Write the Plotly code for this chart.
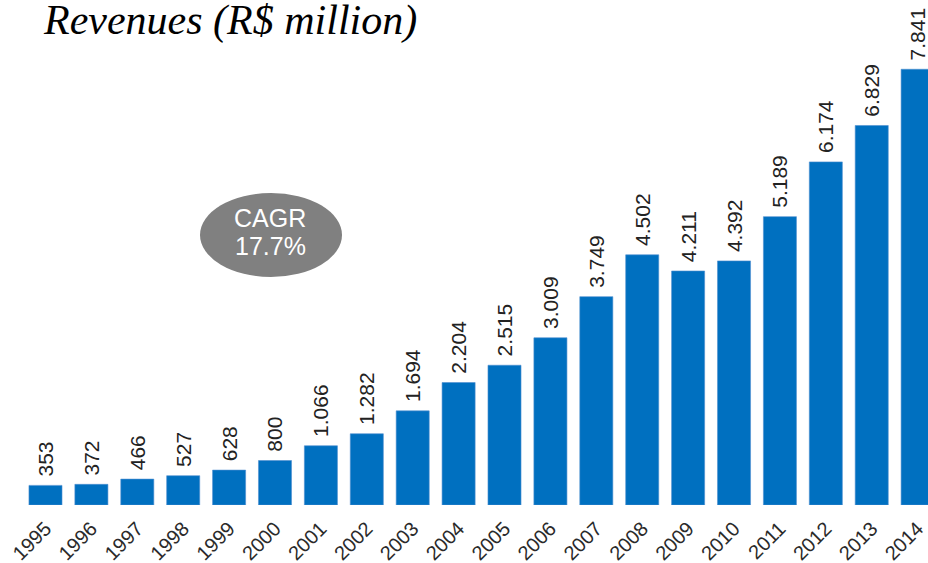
import plotly.graph_objects as go

anos = ['1995', '1996', '1997', '1998', '1999', '2000', '2001', '2002', '2003', '2004',
        '2005', '2006', '2007', '2008', '2009', '2010', '2011', '2012', '2013', '2014']
receita = [353, 372, 466, 527, 628, 800, 1066, 1282, 1694, 2204,
           2515, 3009, 3749, 4502, 4211, 4392, 5189, 6174, 6829, 7841]
rotulos = ['353', '372', '466', '527', '628', '800', '1.066', '1.282', '1.694', '2.204',
           '2.515', '3.009', '3.749', '4.502', '4.211', '4.392', '5.189', '6.174', '6.829', '7.841']

titulo = 'Revenues (R$ million)'
cagr_linhas = ['CAGR', '17.7%']

AZUL = '#0070C0'
FONTE = 'Liberation Sans, Arial, sans-serif'

fig = go.Figure()
fig.add_trace(go.Bar(
    x=anos, y=receita, text=rotulos,
    texttemplate='\u00a0%{text}',
    marker=dict(color=AZUL, line=dict(color='#4f8fd0', width=0.6)),
    width=0.72,
    textposition='outside', textangle=-90, constraintext='none', cliponaxis=False,
    textfont=dict(family=FONTE, size=21, color='#222222'),
    hoverinfo='skip',
))

# elipse do CAGR
fig.add_shape(type='circle', xref='paper', yref='paper',
              x0=200 / 928, x1=342 / 928, y0=(505 - 277) / 505, y1=(505 - 193) / 505,
              fillcolor='#808080', line=dict(width=0), layer='above')
for i, linha in enumerate(cagr_linhas):
    fig.add_annotation(text=linha, xref='paper', yref='paper',
                       x=270 / 928, y=(505 - 218 - i * 28) / 505, showarrow=False,
                       xanchor='center', yanchor='middle',
                       font=dict(family=FONTE, size=25, color='white'))

# titulo
fig.add_annotation(text='<i>' + titulo + '</i> ', xref='paper', yref='paper',
                   x=41 / 928, y=1, xanchor='left', yanchor='top', yshift=5, showarrow=False,
                   font=dict(family='Liberation Serif, Times New Roman, serif', size=42, color='black'))

fig.update_layout(
    width=928, height=563,
    margin=dict(l=0, r=0, t=0, b=58),
    plot_bgcolor='white', paper_bgcolor='white',
    showlegend=False,
)
fig.update_xaxes(range=[-0.991, 19.226], tickangle=-45, showline=False, showgrid=False,
                 automargin=False, ticks='', ticklen=0, ticklabelstandoff=7,
                 tickfont=dict(family=FONTE, size=20, color='#2a2a2a'))
fig.update_yaxes(range=[0, 9087], visible=False, showgrid=False, automargin=False)

# tira a margem padrao do body pra figura ficar em (0,0)
fig.write_html('out.html', config={'displayModeBar': False},
               post_script="document.body.style.margin = '0';")
